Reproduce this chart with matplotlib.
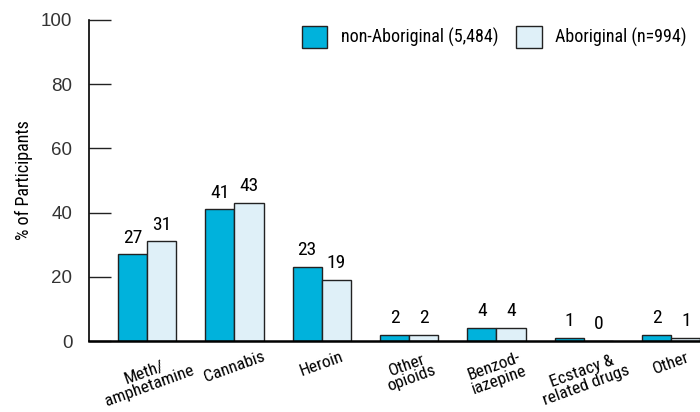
import matplotlib
matplotlib.use("Agg")
import matplotlib.pyplot as plt
import numpy as np
from matplotlib.patches import Patch

COND = ['Roboto Condensed', 'Archivo Narrow', 'Liberation Sans', 'DejaVu Sans']
plt.rcParams['font.family'] = COND

categories = ["Meth/\namphetamine", "Cannabis", "Heroin", "Other\nopioids",
              "Benzod-\niazepine", "Ecstacy &\nrelated drugs", "Other"]
non_aboriginal = [27, 41, 23, 2, 4, 1, 2]
aboriginal = [31, 43, 19, 2, 4, 0, 1]
series_names = ["non-Aboriginal (5,484)", "Aboriginal (n=994)"]
yticks = [0, 20, 40, 60, 80, 100]

c1 = "#00b2dc"
c2 = "#dff0f8"
edge = "#222222"

fig = plt.figure(figsize=(7.0, 4.12), dpi=100)
ax = fig.add_axes([89/700, 71/412, 1 - 89/700, (341-20)/412])

x = np.arange(len(categories))
w = 0.335
ax.bar(x - w/2, non_aboriginal, w, color=c1, edgecolor=edge, linewidth=1.0, label=series_names[0])
ax.bar(x + w/2, aboriginal, w, color=c2, edgecolor=edge, linewidth=1.0, label=series_names[1])

for xi, v in zip(x - w/2, non_aboriginal):
    ax.text(xi, v + 2.4, str(v), ha='center', va='bottom', fontsize=14)
for xi, v in zip(x + w/2, aboriginal):
    ax.text(xi, v + 2.4, str(v), ha='center', va='bottom', fontsize=14)

ax.set_xlim(-0.665, 6.33)
ax.set_ylim(0, 100)
ax.set_yticks(yticks)
ax.tick_params(axis='y', direction='in', length=16, width=1, pad=12, colors='#222222')
ax.set_yticklabels([str(t) for t in yticks], fontfamily=['Liberation Sans', 'DejaVu Sans'],
                   fontsize=13.5, color='#333333')
ax.set_xticks(x)
ax.set_xticklabels(categories, rotation=20, ha='center', va='top', fontsize=12.5, linespacing=0.95)
ax.tick_params(axis='x', length=0, pad=6)
ax.set_ylabel("% of Participants", fontsize=13, labelpad=6)

for s in ['top', 'right']:
    ax.spines[s].set_visible(False)
ax.spines['left'].set_linewidth(1.2)
ax.spines['bottom'].set_linewidth(1.8)

handles = [Patch(facecolor=c1, edgecolor=edge), Patch(facecolor=c2, edgecolor=edge)]
ax.legend(handles, series_names, loc='upper right', bbox_to_anchor=(0.99, 1.005), ncol=2,
          frameon=False, fontsize=13, handlelength=1.4, handleheight=1.5,
          columnspacing=1.0, handletextpad=0.75, borderaxespad=0.0)

fig.savefig("out.png", dpi=100)
